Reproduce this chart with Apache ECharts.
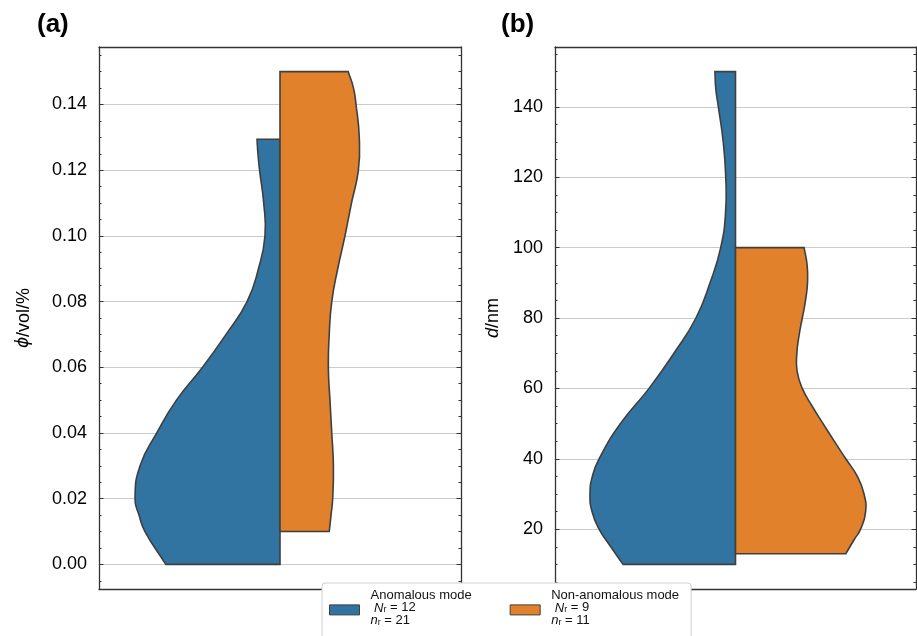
<!DOCTYPE html>
<html>
<head>
<meta charset="utf-8">
<script src="https://cdn.jsdelivr.net/npm/echarts@6/dist/echarts.min.js"></script>
<style>html,body{margin:0;padding:0;background:#fff}#c{width:917px;height:636px}</style>
</head>
<body>
<div id="c"></div>
<script>
// ---------------- data ----------------
// legend entries
const modeNames = ['Anomalous mode', 'Non-anomalous mode'];
const modeNr = [12, 9];
const modeSmallNr = [21, 11];

// panel (a): phi / vol%  -- levels and half-widths (fraction of half the panel width)
const phiAnomY = [0.1294, 0.125, 0.12, 0.11, 0.10, 0.09, 0.08, 0.07, 0.06, 0.05, 0.04, 0.03, 0.02, 0.015, 0.01, 0.00];
const phiAnomW = [0.127, 0.122, 0.113, 0.090, 0.083, 0.119, 0.182, 0.298, 0.428, 0.572, 0.681, 0.773, 0.801, 0.779, 0.746, 0.631];
const phiNonY = [0.15, 0.145, 0.14, 0.13, 0.12, 0.11, 0.10, 0.09, 0.08, 0.07, 0.06, 0.05, 0.04, 0.03, 0.02, 0.015, 0.01];
const phiNonW = [0.377, 0.406, 0.420, 0.438, 0.433, 0.395, 0.359, 0.319, 0.286, 0.272, 0.267, 0.276, 0.286, 0.295, 0.291, 0.282, 0.272];

// panel (b): d / nm
const dAnomY = [150, 145, 140, 130, 120, 110, 100, 90, 80, 70, 60, 50, 40, 35, 30, 25, 20, 15, 10];
const dAnomW = [0.114, 0.109, 0.095, 0.068, 0.054, 0.055, 0.082, 0.141, 0.219, 0.341, 0.479, 0.637, 0.756, 0.793, 0.806, 0.795, 0.756, 0.691, 0.623];
const dNonY = [100, 95, 90, 85, 80, 75, 70, 65, 60, 55, 50, 45, 40, 35, 30, 25, 20, 17, 13];
const dNonW = [0.380, 0.397, 0.399, 0.388, 0.370, 0.352, 0.340, 0.341, 0.370, 0.424, 0.485, 0.547, 0.611, 0.675, 0.712, 0.721, 0.693, 0.657, 0.611];

// axis ranges
const phiRange = [-0.0075, 0.1575];
const dRange = [3, 157];
const panelLabels = ['(a)', '(b)'];

// ---------------- styling ----------------
const FONT = '"Liberation Sans", Arial, Helvetica, sans-serif';
const BLUE = '#3274a1';
const ORANGE = '#e1812c';
const EDGE = '#3f3f3f';
const FRAME = '#333333';
const GRID = '#cccccc';

function halfViolin(ys, ws, side) {
  return function (params, api) {
    if (params.dataIndex !== 0) return null;
    const n = ys.length;
    const topC = api.coord([0, ys[0]]);
    const botC = api.coord([0, ys[n - 1]]);
    const pts = [topC, topC.slice()];
    for (let i = 0; i < n; i++) {
      const p = api.coord([side * ws[i], ys[i]]);
      pts.push(p);
      if (i === 0 || i === n - 1) pts.push(p.slice());
    }
    pts.push(botC, botC.slice());
    return {
      type: 'polygon',
      shape: { points: pts, smooth: 0.5 },
      style: { fill: api.visual('color'), stroke: EDGE, lineWidth: 1.6, lineJoin: 'miter' }
    };
  };
}

function violinSeries(name, ys, ws, side, color, axisIdx) {
  return {
    type: 'custom',
    name: name,
    xAxisIndex: axisIdx,
    yAxisIndex: axisIdx,
    itemStyle: { color: color, borderColor: EDGE, borderWidth: 1 },
    renderItem: halfViolin(ys, ws, side),
    data: ys.map((y, i) => [side * ws[i], y]),
    z: 2,
    silent: true
  };
}

function frameX(gridIndex, position) {
  return {
    gridIndex: gridIndex, type: 'value', position: position, min: -1, max: 1,
    axisLine: { show: true, onZero: false, lineStyle: { color: FRAME, width: 1.3 } },
    axisTick: { show: false }, axisLabel: { show: false }, splitLine: { show: false },
    z: 3
  };
}

function valueY(gridIndex, position, range, showLabels, fmt, name, nameGap, rich) {
  return {
    gridIndex: gridIndex, type: 'value', position: position,
    min: range[0], max: range[1], splitNumber: 8,
    name: showLabels ? name : '',
    nameLocation: 'middle', nameGap: nameGap,
    nameTextStyle: { fontFamily: FONT, fontSize: 18, color: '#000', rich: rich },
    axisLine: { show: true, onZero: false, lineStyle: { color: FRAME, width: 1.3 } },
    axisTick: { show: true, inside: true, length: 4.5, lineStyle: { color: FRAME, width: 1 } },
    minorTick: { show: true, splitNumber: 4, length: 2.5, lineStyle: { color: FRAME, width: 1 } },
    axisLabel: {
      show: showLabels, margin: 12, fontFamily: FONT, fontSize: 18, color: '#000',
      showMinLabel: false, showMaxLabel: false, formatter: fmt
    },
    splitLine: { show: showLabels, lineStyle: { color: GRID, width: 1 } },
    z: 1
  };
}

const phiFmt = v => (Math.abs(Math.round(v / 0.02) * 0.02 - v) < 1e-9 ? v.toFixed(2) : '');
const dFmt = v => (Math.abs(Math.round(v / 20) * 20 - v) < 1e-9 ? String(v) : '');

const chart = echarts.init(document.getElementById('c'), null, { renderer: 'canvas' });

const option = {
  backgroundColor: '#ffffff',
  animation: false,
  title: [
    { text: panelLabels[0], left: 37, top: 12, padding: 0,
      textStyle: { fontFamily: FONT, fontSize: 26, fontWeight: 'bold', color: '#000' } },
    { text: panelLabels[1], left: 501, top: 12, padding: 0,
      textStyle: { fontFamily: FONT, fontSize: 26, fontWeight: 'bold', color: '#000' } }
  ],
  grid: [
    { left: 99, top: 47, width: 362, height: 542, containLabel: false },
    { left: 555, top: 47, width: 361, height: 542, containLabel: false }
  ],
  xAxis: [frameX(0, 'bottom'), frameX(0, 'top'), frameX(1, 'bottom'), frameX(1, 'top')],
  yAxis: [
    valueY(0, 'left', phiRange, true, phiFmt, '{phi|ϕ}/vol/%', 66,
      { phi: { fontFamily: '"DejaVu Sans", sans-serif', fontStyle: 'italic', fontSize: 17, color: '#000' } }),
    valueY(0, 'right', phiRange, false, phiFmt, '', 0, {}),
    valueY(1, 'left', dRange, true, dFmt, '{i|d}/nm', 53,
      { i: { fontFamily: FONT, fontStyle: 'italic', fontSize: 18, color: '#000' } }),
    valueY(1, 'right', dRange, false, dFmt, '', 0, {})
  ],
  legend: {
    data: modeNames,
    left: 322, top: 583,
    orient: 'horizontal',
    icon: 'rect',
    itemWidth: 30, itemHeight: 10, itemGap: 38,
    backgroundColor: '#ffffff',
    borderColor: '#d0d0d0', borderWidth: 1, borderRadius: 3,
    padding: [4, 12, 12, 7],
    itemStyle: { borderColor: EDGE, borderWidth: 1 },
    selectedMode: false,
    z: 10,
    formatter: function (name) {
      const i = modeNames.indexOf(name);
      return name + '\n {it|N}{sub|r} = ' + modeNr[i] + '\n{it|n}{sub|r} = ' + modeSmallNr[i];
    },
    textStyle: {
      fontFamily: FONT, fontSize: 13, color: '#111', lineHeight: 12.6,
      padding: [2, 0, 6, 6],
      rich: {
        it: { fontFamily: FONT, fontStyle: 'italic', fontSize: 13, lineHeight: 12.6, color: '#111' },
        sub: { fontFamily: FONT, fontSize: 9, lineHeight: 2, verticalAlign: 'bottom', color: '#111' }
      }
    }
  },
  series: [
    violinSeries(modeNames[0], phiAnomY, phiAnomW, -1, BLUE, 0),
    violinSeries(modeNames[1], phiNonY, phiNonW, 1, ORANGE, 0),
    violinSeries(modeNames[0], dAnomY, dAnomW, -1, BLUE, 2),
    violinSeries(modeNames[1], dNonY, dNonW, 1, ORANGE, 2)
  ]
};

chart.setOption(option);
</script>
</body>
</html>
